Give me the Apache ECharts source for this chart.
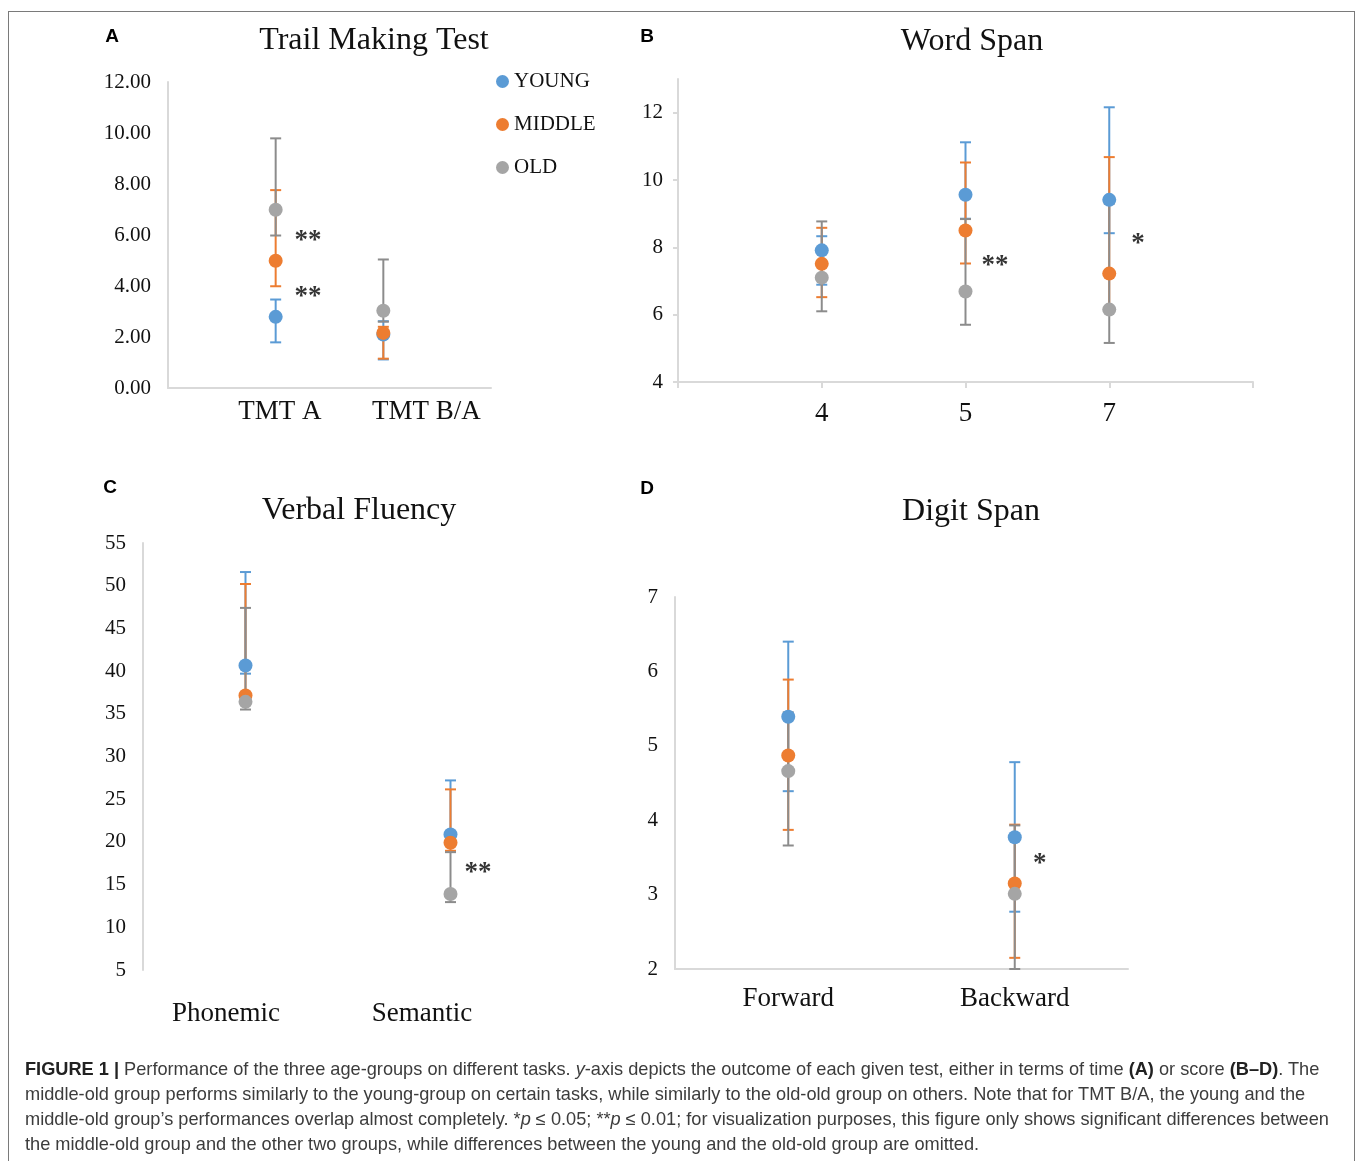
<!DOCTYPE html>
<html>
<head>
<meta charset="utf-8">
<script src="https://cdn.jsdelivr.net/npm/echarts@6/dist/echarts.min.js"></script>
<style>
  html, body { margin: 0; padding: 0; background: #fff; }
  #frame {
    position: absolute; left: 8px; top: 11px; width: 1347px; height: 1160px;
    border: 1px solid #7a7a7a; border-bottom: none; box-sizing: border-box;
  }
  #chart { position: absolute; left: 0; top: 0; width: 1360px; height: 1161px; }
  #caption {
    position: absolute; left: 25px; top: 1057px; white-space: nowrap;
    font-family: "Liberation Sans", Arial, sans-serif; font-size: 18.2px;
    line-height: 25px; color: #3c3c3c;
  }
  #caption b { color: #222; }
</style>
</head>
<body>
<div id="frame"></div>
<div id="chart"></div>
<div id="caption">
  <b>FIGURE 1 |</b> Performance of the three age-groups on different tasks. <i>y</i>-axis depicts the outcome of each given test, either in terms of time <b>(A)</b> or score <b>(B–D)</b>. The<br>
  middle-old group performs similarly to the young-group on certain tasks, while similarly to the old-old group on others. Note that for TMT B/A, the young and the<br>
  middle-old group’s performances overlap almost completely. *<i>p</i> ≤ 0.05; **<i>p</i> ≤ 0.01; for visualization purposes, this figure only shows significant differences between<br>
  the middle-old group and the other two groups, while differences between the young and the old-old group are omitted.
</div>
<script>
  const groups = ['YOUNG', 'MIDDLE', 'OLD'];
  const markerColors = ['#5B9BD5', '#ED7D31', '#A5A5A5'];
  const barColors = ['#5B9BD5', '#ED7D31', '#8C8C8C'];

  // A - Trail Making Test (time)
  const tmtLabels = ['TMT A', 'TMT B/A'];
  const tmtMean = [[2.79, 2.10], [4.99, 2.16], [6.99, 3.03]];
  const tmtLow = [[1.79, 1.12], [3.99, 1.15], [5.98, 2.60]];
  const tmtHigh = [[3.47, 2.62], [7.76, 2.40], [9.79, 5.04]];
  const tmtStars = [[1.30, 5.75, '**'], [1.30, 3.55, '**']];

  // B - Word Span
  const wordLabels = ['4', '5', '7'];
  const wordMean = [[7.91, 9.56, 9.41], [7.51, 8.50, 7.22], [7.10, 6.69, 6.15]];
  const wordLow = [[6.89, 8.85, 8.42], [6.52, 7.52, 6.20], [6.10, 5.70, 5.16]];
  const wordHigh = [[8.33, 11.12, 12.16], [8.58, 10.52, 10.68], [8.77, 8.84, 9.30]];
  const wordStars = [[2.205, 7.45, '**'], [3.2, 8.10, '*']];

  // C - Verbal Fluency
  const fluLabels = ['Phonemic', 'Semantic'];
  const fluMean = [[40.66, 20.86], [37.15, 19.90], [36.40, 13.90]];
  const fluLow = [[39.7, 19.9], [36.3, 18.96], [35.5, 12.95]];
  const fluHigh = [[51.6, 27.2], [50.2, 26.15], [47.4, 18.8]];
  const fluStars = [[2.134, 16.3, '**']];

  // D - Digit Span
  const digLabels = ['Forward', 'Backward'];
  const digMean = [[5.39, 3.77], [4.87, 3.15], [4.66, 3.01]];
  const digLow = [[4.39, 2.77], [3.87, 2.15], [3.66, 2.00]];
  const digHigh = [[6.40, 4.78], [5.89, 3.94], [5.45, 3.93]];
  const digStars = [[2.11, 3.41, '*']];

  const serif = '"Liberation Serif", "Times New Roman", serif';
  const sans = '"Liberation Sans", Arial, sans-serif';

  const chart = echarts.init(document.getElementById('chart'), null, { renderer: 'canvas' });

  function errorSeries(idx, g, low, high) {
    return {
      type: 'custom',
      name: groups[g] + ' error',
      xAxisIndex: idx, yAxisIndex: idx,
      z: 2, silent: true,
      data: low.map((v, i) => [i + 1, v, high[i]]),
      renderItem: function (params, api) {
        const x = api.value(0);
        const top = api.coord([x, api.value(2)]);
        const bot = api.coord([x, api.value(1)]);
        const w = 5.5;
        const style = { stroke: barColors[g], lineWidth: 2 };
        return {
          type: 'group',
          children: [
            { type: 'line', shape: { x1: top[0], y1: top[1], x2: bot[0], y2: bot[1] }, style: style },
            { type: 'line', shape: { x1: top[0] - w, y1: top[1], x2: top[0] + w, y2: top[1] }, style: style },
            { type: 'line', shape: { x1: bot[0] - w, y1: bot[1], x2: bot[0] + w, y2: bot[1] }, style: style }
          ]
        };
      }
    };
  }

  function pointSeries(idx, g, mean) {
    return {
      type: 'scatter',
      name: groups[g],
      xAxisIndex: idx, yAxisIndex: idx,
      z: 3, silent: true,
      symbolSize: 14,
      itemStyle: { color: markerColors[g], opacity: 1 },
      data: mean.map((v, i) => [i + 1, v])
    };
  }

  function starSeries(idx, stars) {
    return {
      type: 'scatter',
      xAxisIndex: idx, yAxisIndex: idx,
      z: 4, silent: true,
      symbolSize: 1,
      itemStyle: { color: 'rgba(0,0,0,0)' },
      label: {
        show: true, position: 'inside',
        formatter: p => p.data[2],
        fontFamily: serif, fontSize: 27, fontWeight: 'bold', color: '#000'
      },
      data: stars
    };
  }

  const series = [];
  [[tmtMean, tmtLow, tmtHigh, tmtStars], [wordMean, wordLow, wordHigh, wordStars],
   [fluMean, fluLow, fluHigh, fluStars], [digMean, digLow, digHigh, digStars]].forEach((p, idx) => {
    for (let g = 0; g < 3; g++) series.push(errorSeries(idx, g, p[1][g], p[2][g]));
    for (let g = 0; g < 3; g++) series.push(pointSeries(idx, g, p[0][g]));
    series.push(starSeries(idx, p[3]));
  });

  const axisLineStyle = { show: true, lineStyle: { color: '#d9d9d9', width: 2 } };
  const yLabel = { fontFamily: serif, fontSize: 21, color: '#111', margin: 17 };

  function xCat(min, max, labelAt, labels, margin, opts) {
    return Object.assign({
      type: 'value', min: min, max: max,
      splitLine: { show: false },
      axisTick: { show: false },
      axisLine: axisLineStyle,
      axisLabel: {
        customValues: labelAt,
        formatter: function (v) {
          let k = 0, best = Infinity;
          labelAt.forEach((a, i) => { if (Math.abs(a - v) < best) { best = Math.abs(a - v); k = i; } });
          return labels[k];
        },
        fontFamily: serif, fontSize: 27, color: '#111', margin: margin
      }
    }, opts || {});
  }

  const option = {
    animation: false,
    backgroundColor: 'transparent',
    grid: [
      { left: 168, top: 82, width: 323, height: 306 },
      { left: 678, top: 79, width: 575, height: 303 },
      { left: 143, top: 543, width: 410, height: 427 },
      { left: 675, top: 597, width: 453, height: 372 }
    ],
    xAxis: [
      xCat(0, 3, [1.04, 2.40], tmtLabels, 10),
      Object.assign(xCat(0, 4, [1, 2, 3], wordLabels, 18), {
        interval: 1,
        axisTick: { show: true, length: 6, lineStyle: { color: '#d9d9d9', width: 2 } }
      }),
      xCat(0.5, 2.5, [0.905, 1.861], fluLabels, 30, { axisLine: { show: false } }),
      xCat(0.5, 2.5, [1, 2], digLabels, 16)
    ],
    yAxis: [
      { type: 'value', gridIndex: 0, min: 0, max: 12, interval: 2, splitLine: { show: false },
        axisLine: axisLineStyle, axisTick: { show: false },
        axisLabel: Object.assign({}, yLabel, { formatter: v => v.toFixed(2) }) },
      { type: 'value', gridIndex: 1, min: 4, max: 13, interval: 2, splitLine: { show: false },
        axisLine: axisLineStyle,
        axisTick: { show: true, length: 5, lineStyle: { color: '#d9d9d9', width: 2 } },
        axisLabel: Object.assign({}, yLabel, { showMaxLabel: false, margin: 15 }) },
      { type: 'value', gridIndex: 2, min: 5, max: 55, interval: 5, splitLine: { show: false },
        axisLine: axisLineStyle, axisTick: { show: false }, axisLabel: yLabel },
      { type: 'value', gridIndex: 3, min: 2, max: 7, interval: 1, splitLine: { show: false },
        axisLine: axisLineStyle, axisTick: { show: false }, axisLabel: yLabel }
    ],
    legend: {
      orient: 'vertical', left: 491, top: 66,
      itemWidth: 13, itemHeight: 13, itemGap: 22, icon: 'circle',
      selectedMode: false,
      data: groups,
      textStyle: { fontFamily: serif, fontSize: 21, color: '#111' }
    },
    graphic: [
      { type: 'text', x: 374, y: 41, style: { text: 'Trail Making Test', fontFamily: serif, fontSize: 32, fill: '#111', align: 'center', verticalAlign: 'middle' } },
      { type: 'text', x: 972, y: 42, style: { text: 'Word Span', fontFamily: serif, fontSize: 32, fill: '#111', align: 'center', verticalAlign: 'middle' } },
      { type: 'text', x: 359, y: 511, style: { text: 'Verbal Fluency', fontFamily: serif, fontSize: 32, fill: '#111', align: 'center', verticalAlign: 'middle' } },
      { type: 'text', x: 971, y: 512, style: { text: 'Digit Span', fontFamily: serif, fontSize: 32, fill: '#111', align: 'center', verticalAlign: 'middle' } },
      { type: 'text', x: 112, y: 37, style: { text: 'A', fontFamily: sans, fontWeight: 'bold', fontSize: 19, fill: '#000', align: 'center', verticalAlign: 'middle' } },
      { type: 'text', x: 647, y: 37, style: { text: 'B', fontFamily: sans, fontWeight: 'bold', fontSize: 19, fill: '#000', align: 'center', verticalAlign: 'middle' } },
      { type: 'text', x: 110, y: 488, style: { text: 'C', fontFamily: sans, fontWeight: 'bold', fontSize: 19, fill: '#000', align: 'center', verticalAlign: 'middle' } },
      { type: 'text', x: 647, y: 489, style: { text: 'D', fontFamily: sans, fontWeight: 'bold', fontSize: 19, fill: '#000', align: 'center', verticalAlign: 'middle' } }
    ],
    series: series
  };

  option.xAxis.forEach((a, i) => { a.gridIndex = i; });
  chart.setOption(option);
</script>
</body>
</html>
